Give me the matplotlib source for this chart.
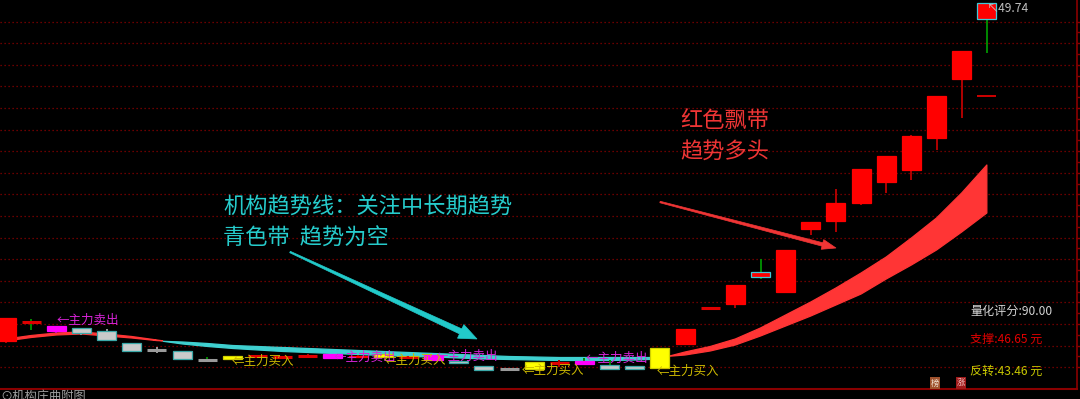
import numpy as np
import matplotlib
matplotlib.use("Agg")
import matplotlib.pyplot as plt
from matplotlib.patches import Rectangle, Polygon

plt.rcParams['font.family'] = ['Noto Sans CJK SC', 'DejaVu Sans']

# ---------------- data ----------------
days = list(range(1, 41))
opens = [15.94, 17.84, 16.97, 17.21, 16.97, 15.71, 15.04, 14.97, 14.04, 14.14,
         14.44, 14.34, 14.44, 14.24, 14.34, 14.34, 14.34, 14.04, 13.97, 13.47,
         13.14, 13.14, 13.71, 13.69, 13.54, 13.44, 13.21, 15.61, 19.21, 19.64,
         22.34, 20.84, 27.14, 27.94, 29.74, 31.84, 33.04, 36.24, 42.14, 48.14]
highs = [18.24, 18.14, 17.47, 17.21, 17.14, 15.71, 15.37, 14.97, 14.34, 14.44,
         14.54, 14.44, 14.64, 14.64, 14.54, 14.64, 14.44, 14.54, 13.97, 13.47,
         13.24, 13.81, 14.04, 14.24, 14.04, 13.44, 15.21, 17.11, 19.21, 21.54,
         24.14, 25.04, 27.84, 31.14, 33.14, 34.44, 36.54, 40.44, 44.94, 49.74]
lows = [15.74, 17.04, 16.74, 16.54, 16.04, 14.94, 14.71, 14.14, 14.04, 14.14,
        14.34, 14.24, 14.34, 14.24, 14.34, 14.34, 14.24, 14.04, 13.71, 13.01,
        13.04, 13.14, 13.34, 13.69, 13.14, 13.14, 13.21, 15.61, 19.21, 19.24,
        22.14, 20.84, 26.54, 26.84, 29.54, 30.74, 32.04, 35.04, 38.24, 44.74]
closes = [18.24, 17.84, 17.47, 16.77, 16.04, 14.94, 15.04, 14.14, 14.04, 14.44,
          14.44, 14.34, 14.44, 14.64, 14.44, 14.64, 14.34, 14.54, 13.71, 13.01,
          13.14, 13.81, 13.71, 13.94, 13.14, 13.14, 15.21, 17.11, 19.21, 21.54,
          22.84, 25.04, 27.84, 29.74, 33.14, 34.44, 36.44, 40.44, 44.94, 49.74]
kinds = ['red', 'red', 'magenta', 'gray', 'gray', 'gray', 'gray', 'gray', 'gray', 'yellow',
         'red', 'red', 'red', 'magenta', 'red', 'yellow', 'red', 'magenta', 'gray', 'gray',
         'gray', 'yellow', 'red', 'magenta', 'gray', 'gray', 'yellow', 'red', 'red', 'red',
         'red', 'red', 'red', 'red', 'red', 'red', 'red', 'red', 'red', 'red']
green_wick_days = [2, 9, 24, 25, 31, 40]

trend_fast = [16.14, 16.49, 16.74, 16.84, 16.64, 16.39, 16.04, 15.69, 15.44, 15.24,
              15.09, 14.94, 14.84, 14.74, 14.64, 14.54, 14.44, 14.39, 14.29, 14.19,
              14.14, 14.09, 14.04, 14.04, 14.04, 14.09, 14.19, 14.84, 15.39, 16.14,
              17.24, 18.54, 19.84, 21.24, 22.74, 24.34, 26.24, 28.24, 30.74, 33.54]
trend_slow = [15.94, 16.29, 16.54, 16.64, 16.44, 16.24, 15.98, 15.89, 15.74, 15.54,
              15.44, 15.34, 15.24, 15.14, 15.04, 14.94, 14.84, 14.74, 14.64, 14.54,
              14.44, 14.39, 14.34, 14.34, 14.34, 14.34, 14.34, 14.54, 14.94, 15.54,
              16.44, 17.44, 18.44, 19.54, 20.64, 22.14, 23.54, 25.04, 26.84, 28.74]

sell_days = [3, 14, 18, 24]
buy_days = [10, 16, 22, 27]
stop_day, stop_level = 40, 40.44
last_high = 49.74
score, support, reversal = 90.00, 46.65, 43.46

# ---------------- figure ----------------
W, H = 1080, 399
fig = plt.figure(figsize=(W / 100, H / 100), dpi=100, facecolor='black')
ax = fig.add_axes([0, 10 / H, 1077 / W, 389 / H])
ax.set_facecolor('black')

x0, dx = 6.0, 25.15
ax.set_xlim(1 - x0 / dx, 1 + (1077 - x0) / dx)
ax.set_ylim(50.04 - 38.9, 50.04)

for s in ['top', 'left']:
    ax.spines[s].set_visible(False)
ax.spines['bottom'].set_color('#8a0000')
ax.spines['bottom'].set_linewidth(1.5)
ax.spines['right'].set_color('#8a0000')
ax.spines['right'].set_linewidth(1.2)
ax.set_xticks([])
grid_levels = np.linspace(47.89, 13.33, 17)
ax.yaxis.tick_right()
ax.set_yticks(grid_levels)
ax.set_yticks((grid_levels[:-1] + grid_levels[1:]) / 2, minor=True)
ax.tick_params(axis='y', which='both', colors='#8a0000', labelright=False,
               direction='out', length=3, width=1)
ax.tick_params(axis='y', which='minor', length=2)

for g in grid_levels:
    ax.axhline(g, color='#8c0000', lw=0.9, ls=(0, (1, 2.2)), zorder=0)

# trend band
d = np.array(days, dtype=float)
f = np.array(trend_fast)
s_ = np.array(trend_slow)
ax.fill_between(d, f, s_, where=f >= s_, interpolate=True, fc='#ff3535',
                ec='#ff3535', lw=0.9, zorder=2)
ax.fill_between(d, f, s_, where=f <= s_, interpolate=True, fc='#3fd0d0',
                ec='#3fd0d0', lw=0.9, zorder=2)

# candles
body_col = {'red': '#ff0000', 'gray': '#cacaca', 'magenta': '#ff00ff', 'yellow': '#ffff00'}
edge_col = {'red': '#ff0000', 'gray': '#3aa8a8', 'magenta': '#ff00ff', 'yellow': '#d0d000'}
wick_col = {'red': '#b00000', 'gray': '#9a9a9a', 'magenta': '#c000c0', 'yellow': '#c0c000'}
bw = 19 / dx
for day, o, h, l, c, k in zip(days, opens, highs, lows, closes, kinds):
    wc = '#008a00' if day in green_wick_days else wick_col[k]
    ax.vlines(day, l, h, color=wc, lw=1.4, zorder=3)
    top, bot = max(o, c), min(o, c)
    if top - bot < 0.08:
        col = '#9a9a9a' if k == 'gray' else body_col[k]
        if k == 'red':
            col = '#e00000'
        ax.hlines((o + c) / 2, day - bw / 2, day + bw / 2, color=col, lw=2.2, zorder=4)
    else:
        ec = '#40c8d8' if day in green_wick_days and k == 'red' else edge_col[k]
        ax.add_patch(Rectangle((day - bw / 2, bot), bw, top - bot, fc=body_col[k],
                               ec=ec, lw=0.9, zorder=4))

ax.hlines(stop_level, stop_day - bw / 2, stop_day + bw / 2, color='#d00000', lw=1.4, zorder=4)


# ---------------- annotations ----------------
def ftext(px, py, s, color, size, ha='left', va='center', **kw):
    return fig.text(px / W, 1 - py / H, s, color=color, fontsize=size, ha=ha, va=va,
                    family=['Noto Sans CJK SC', 'DejaVu Sans'], **kw)


def taper_arrow(xa, ya, xb, yb, w0, w1, hw, hl, color):
    p0 = np.array([xa, ya], float)
    p1 = np.array([xb, yb], float)
    v = p1 - p0
    u = v / np.hypot(*v)
    n = np.array([-u[1], u[0]])
    pb = p1 - u * hl
    pts = [p0 + n * w0 / 2, pb + n * w1 / 2, pb + n * hw / 2, p1,
           pb - n * hw / 2, pb - n * w1 / 2, p0 - n * w0 / 2]
    pts = [(p[0] / W, 1 - p[1] / H) for p in pts]
    fig.patches.append(Polygon(pts, closed=True, transform=fig.transFigure,
                               fc=color, ec=color, lw=0.5, zorder=6))


cyan_txt = '#26cccc'
red_txt = '#ee3535'
ftext(223, 207, '机构趋势线：关注中长期趋势', cyan_txt, 16)
ftext(223, 238, '青色带  趋势为空', cyan_txt, 16)
ftext(680, 121, '红色飘带', red_txt, 16)
ftext(680, 151, '趋势多头', red_txt, 16)

taper_arrow(290, 252, 477, 339, 1.5, 5.5, 15, 18, '#22caca')
taper_arrow(660, 202, 836, 248, 1.5, 3.5, 10, 14, '#f03535')

sell_pos = [(57, 320), (334, 357), (436, 356), (586, 358)]
buy_pos = [(232, 361), (384, 360), (522, 370), (657, 371)]
for (px, py) in sell_pos:
    ftext(px, py, '←主力卖出', '#d823d8', 9)
for (px, py) in buy_pos:
    ftext(px, py, '⇐主力买入', '#ccb800', 9)

ftext(970, 311, f'量化评分:{score:.2f}', '#d4d4d4', 8.7)
ftext(970, 339, f'支撑:{support:.2f} 元', '#e00000', 8.7)
ftext(970, 371, f'反转:{reversal:.2f} 元', '#c8c800', 8.7)

ftext(987, 8, f'↖{last_high:.2f}', '#c0c0c0', 8.7)

ftext(935, 383, '榜', '#f0e0d0', 6, ha='center',
      bbox=dict(boxstyle='square,pad=0.15', fc='#a0522d', ec='none'))
ftext(961, 383, '涨', '#f0c0c0', 6, ha='center',
      bbox=dict(boxstyle='square,pad=0.15', fc='#a01a1a', ec='none'))

ftext(0, 397, '⊙机构庄曲附图', '#a0a0a0', 8.8)

fig.savefig('out.png', dpi=100, facecolor='black')
